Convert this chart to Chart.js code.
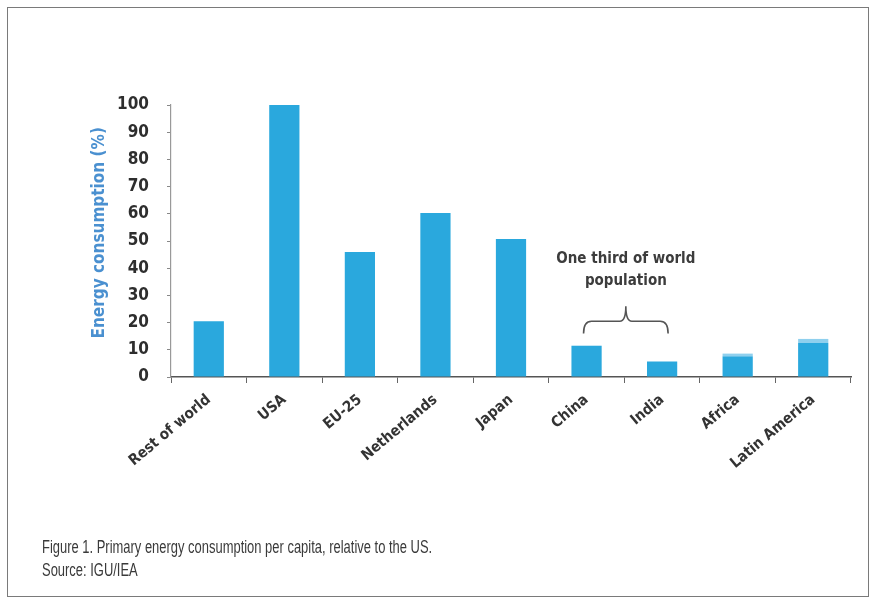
<!DOCTYPE html>
<html>
<head>
<meta charset="utf-8">
<script src="https://cdn.jsdelivr.net/npm/chart.js@4.4.0/dist/chart.umd.min.js"></script>
<style>
  html, body { margin: 0; padding: 0; background: #fff; }
  #wrap { position: relative; width: 877px; height: 605px; overflow: hidden; }
  #frame { position: absolute; left: 7px; top: 7px; width: 862px; height: 590px; border: 1.5px solid #7a7a7a; box-sizing: border-box; }
  canvas { position: absolute; left: 0; top: 0; }
  #caption { position: absolute; left: 42px; top: 536px; font-family: "Liberation Sans", Arial, sans-serif; font-size: 17.5px; line-height: 23px; color: #3a3a3a; transform: scaleX(0.74); transform-origin: left top; white-space: nowrap; }
</style>
</head>
<body>
<div id="wrap">
  <div id="frame"></div>
  <canvas id="c" width="877" height="605"></canvas>
  <div id="caption">Figure 1. Primary energy consumption per capita, relative to the US.<br>Source: IGU/IEA</div>
</div>
<script>
const categories = ["Rest of world", "USA", "EU-25", "Netherlands", "Japan", "China", "India", "Africa", "Latin America"];
const consumption = [20.5, 100, 46, 60.3, 50.7, 11.5, 5.7, 7.6, 12.5];
const capValues = [0, 0, 0, 0, 0, 0, 0, 1.0, 1.5];
const yTicks = [0, 10, 20, 30, 40, 50, 60, 70, 80, 90, 100];
const annotationLines = ["One third of world", "population"];
const yTitle = "Energy consumption (%)";

const condFont = '"DejaVu Sans Condensed", "Liberation Sans", sans-serif';

const bracePlugin = {
  id: 'brace',
  afterDatasetsDraw(chart) {
    const ctx = chart.ctx;
    const xs = chart.scales.x, ys = chart.scales.y;
    const x1 = xs.getPixelForValue(5) - 3;
    const x2 = xs.getPixelForValue(6) + 6;
    const yb = ys.getPixelForValue(16);
    const ytop = ys.getPixelForValue(20.5);
    const ytip = ys.getPixelForValue(26);
    const xm = (x1 + x2) / 2;
    ctx.save();
    ctx.strokeStyle = '#555';
    ctx.lineWidth = 1.6;
    ctx.beginPath();
    ctx.moveTo(x1, yb);
    ctx.quadraticCurveTo(x1, ytop, x1 + 8, ytop);
    ctx.lineTo(xm - 6, ytop);
    ctx.quadraticCurveTo(xm, ytop, xm, ytip);
    ctx.quadraticCurveTo(xm, ytop, xm + 6, ytop);
    ctx.lineTo(x2 - 8, ytop);
    ctx.quadraticCurveTo(x2, ytop, x2, yb);
    ctx.stroke();
    ctx.fillStyle = '#3c3c3c';
    ctx.font = 'bold 15px ' + condFont;
    ctx.textAlign = 'center';
    ctx.textBaseline = 'middle';
    ctx.fillText(annotationLines[0], xm, ys.getPixelForValue(43.5));
    ctx.fillText(annotationLines[1], xm, ys.getPixelForValue(35.2));
    // y-axis title, placed relative to the y scale
    ctx.save();
    ctx.translate(ys.left + 10, ys.getPixelForValue(53));
    ctx.rotate(-Math.PI / 2);
    ctx.fillStyle = '#4a90d0';
    ctx.font = 'bold 17px ' + condFont;
    ctx.fillText(yTitle, 0, 0);
    ctx.restore();
    ctx.restore();
  }
};

new Chart(document.getElementById('c'), {
  type: 'bar',
  data: {
    labels: categories,
    datasets: [
      { data: consumption, backgroundColor: '#2aa8dd', barPercentage: 0.4, categoryPercentage: 1.0 },
      { data: capValues, backgroundColor: '#8fd0ee', barPercentage: 0.4, categoryPercentage: 1.0 }
    ]
  },
  options: {
    responsive: false,
    animation: false,
    events: [],
    layout: { padding: { left: 90, right: 26, top: 105, bottom: 110 } },
    plugins: { legend: { display: false }, tooltip: { enabled: false } },
    scales: {
      x: {
        stacked: true,
        offset: true,
        grid: { display: true, offset: true, drawOnChartArea: false, tickLength: 6, color: '#666', lineWidth: 1 },
        border: { display: true, color: '#555', width: 1.5 },
        ticks: {
          autoSkip: false, minRotation: 40, maxRotation: 40, padding: 8,
          color: '#333', font: { family: condFont, weight: 'bold', size: 15 }
        },
        afterFit(scale) { scale.height = 118; }
      },
      y: {
        stacked: true,
        min: 0, max: 100,
        afterBuildTicks(scale) { scale.ticks = yTicks.map(v => ({ value: v })); },
        grid: { display: true, drawOnChartArea: false, tickLength: 4, color: '#888' },
        border: { display: true, color: '#999', width: 1.2 },
        ticks: { color: '#2e2e2e', padding: 18, font: { family: condFont, weight: 'bold', size: 17 } },
        afterFit(scale) { scale.width = 81; }
      }
    }
  },
  plugins: [bracePlugin]
});
</script>
</body>
</html>
